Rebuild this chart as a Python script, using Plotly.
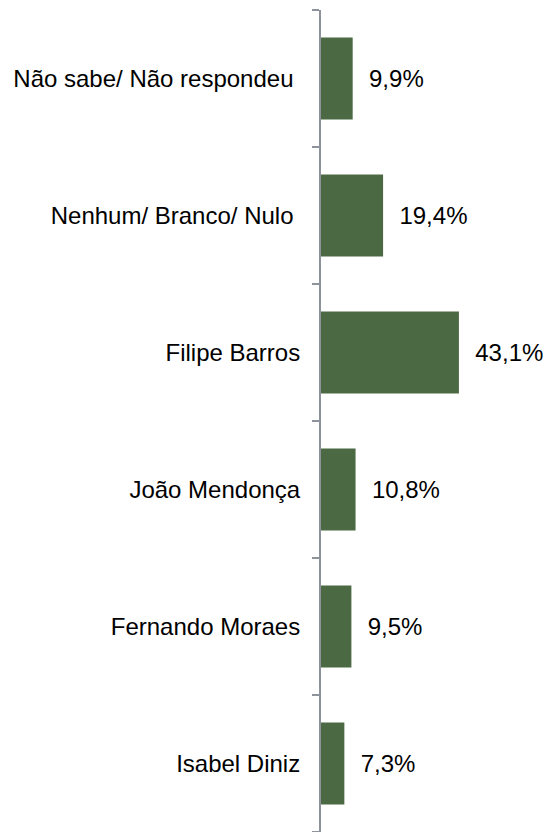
import plotly.graph_objects as go

categories = ["Não sabe/ Não respondeu", "Nenhum/ Branco/ Nulo", "Filipe Barros",
              "João Mendonça", "Fernando Moraes", "Isabel Diniz"]
values = [9.9, 19.4, 43.1, 10.8, 9.5, 7.3]
value_labels = ["9,9%", "19,4%", "43,1%", "10,8%", "9,5%", "7,3%"]
tick_labels = ["Não sabe/ Não respondeu\u00a0", "Nenhum/ Branco/ Nulo\u00a0", "Filipe Barros",
               "João Mendonça", "Fernando Moraes", "Isabel Diniz"]

FONT = "Liberation Sans, Arial, sans-serif"

fig = go.Figure(go.Bar(
    x=values,
    y=categories,
    orientation="h",
    marker=dict(color="#4B6A44", line=dict(width=0)),
    text=["\u00a0\u00a0" + t for t in value_labels],
    textposition="outside",
    textfont=dict(family=FONT, size=24, color="#000000"),
    cliponaxis=False,
    hoverinfo="skip",
))

fig.update_layout(
    width=545, height=832,
    margin=dict(l=321, r=0, t=10, b=0),
    paper_bgcolor="white", plot_bgcolor="white",
    bargap=0.4,
    showlegend=False,
    font=dict(family=FONT, size=24, color="#000000"),
)
fig.update_xaxes(range=[0, 70], visible=False, showgrid=False, zeroline=False)
fig.update_yaxes(
    autorange="reversed",
    tickmode="array", tickvals=categories, ticktext=tick_labels,
    showline=True, linecolor="#8E939B", linewidth=2,
    ticks="outside", tickson="boundaries", ticklen=7, tickwidth=2, tickcolor="#8E939B",
    ticklabelstandoff=14,
    showgrid=False, zeroline=False,
    tickfont=dict(family=FONT, size=24, color="#000000"),
)

fig.write_html(
    "out.html",
    config={"displayModeBar": False},
    post_script="document.body.style.margin='0';document.body.style.overflow='hidden';",
)
